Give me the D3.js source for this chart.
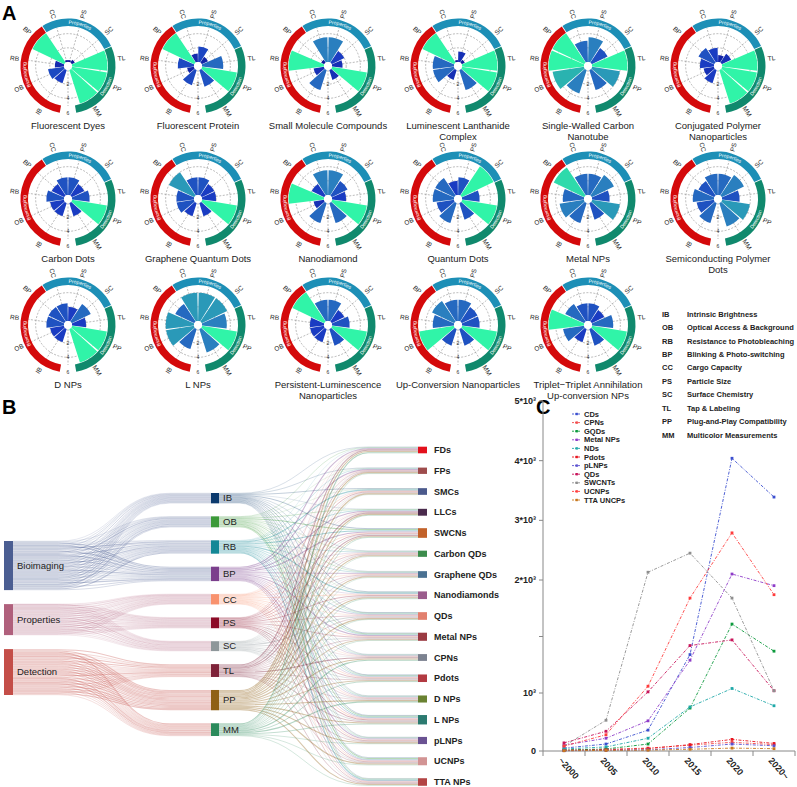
<!DOCTYPE html>
<meta charset="utf-8">
<style>
  body { margin: 0; background: #fff; }
  text { font-family: "Liberation Sans", Arial, sans-serif; }
</style>
<svg width="797" height="787"></svg>
<script src="https://d3js.org/d3.v7.min.js"></script>
<script>
// ---------- data ----------
var axes = ["IB", "OB", "RB", "BP", "CC", "PS", "SC", "TL", "PP", "MM"];
var axisNames = ["Intrinsic Brightness", "Optical Access & Background", "Resistance to Photobleaching",
  "Blinking & Photo-switching", "Cargo Capacity", "Particle Size", "Surface Chemistry",
  "Tap & Labeling", "Plug-and-Play Compatibility", "Multicolor Measurements"];
var groups = ["Bioimaging", "Properties", "Detection"];
var groupOf = [0, 0, 0, 0, 1, 1, 1, 2, 2, 2];
// slot of each axis on the rose (11 slots, slot 5 left empty at the bottom)
var slotOf = [6, 7, 8, 9, 10, 0, 1, 2, 3, 4];

var shortNames = ["FDs", "FPs", "SMCs", "LLCs", "SWCNs", "CPNs", "Carbon QDs", "Graphene QDs",
  "Nanodiamonds", "QDs", "Metal NPs", "Pdots", "D NPs", "L NPs", "pLNPs", "UCNPs", "TTA NPs"];
var titles = [["Fluorescent Dyes"], ["Fluorescent Protein"], ["Small Molecule Compounds"],
  ["Luminescent Lanthanide", "Complex"], ["Single-Walled Carbon", "Nanotube"],
  ["Conjugated Polymer", "Nanoparticles"], ["Carbon Dots"], ["Graphene Quantum Dots"],
  ["Nanodiamond"], ["Quantum Dots"], ["Metal NPs"], ["Semiconducting Polymer", "Dots"],
  ["D NPs"], ["L NPs"], ["Persistent-Luminescence", "Nanoparticles"],
  ["Up-Conversion Nanoparticles"], ["Triplet\u2212Triplet Annihilation", "Up-conversion NPs"]];
// scores in axis order IB OB RB BP CC PS SC TL PP MM
var scores = [
  [2, 2.3, 1.3, 5, 0.3, 0.3, 0.5, 5, 5, 5],
  [2.3, 1, 2.3, 5, 1.2, 2.2, 1, 3, 5, 2.5],
  [3, 1.5, 5, 0.5, 3.5, 3.5, 2, 1.5, 5, 1.5],
  [1.5, 3, 3, 5, 0.3, 1.5, 0.5, 5, 5, 3],
  [3.5, 4.5, 5, 5, 3, 3.5, 2.5, 5, 4, 3],
  [2, 1.5, 2, 2.5, 2, 1, 1.5, 5, 5, 5],
  [2, 2, 2.5, 2, 2.5, 2.5, 2, 2.5, 5, 2],
  [2, 2.5, 2.5, 4, 2.5, 2.5, 2, 2, 5, 2],
  [3, 1.5, 5, 2, 3.5, 3.5, 2.5, 2, 5, 3],
  [3, 2.5, 3, 3, 2, 2.5, 5, 2.5, 5, 2.5],
  [3, 3.5, 3, 4.8, 3, 3, 3.5, 2.5, 4, 2.5],
  [3, 2.5, 3, 2.5, 3, 3, 3.5, 2.5, 4, 3.5],
  [2, 2, 2.5, 2.5, 2.5, 2, 3, 2, 5, 5],
  [3, 4, 4, 3, 4, 4, 4, 3.5, 5, 3.5],
  [2, 2, 2, 5, 3, 3, 2, 2.5, 5, 2.5],
  [2.5, 5, 3, 3.5, 3, 3, 2.5, 2.5, 5, 2.5],
  [2, 3, 5, 3, 2.5, 2.5, 2, 3, 5, 2.5]
];
var sankeyOrder = ["FDs", "FPs", "SMCs", "LLCs", "SWCNs", "Carbon QDs", "Graphene QDs", "Nanodiamonds",
  "QDs", "Metal NPs", "CPNs", "Pdots", "D NPs", "L NPs", "pLNPs", "UCNPs", "TTA NPs"];

var groupColors = ["#4b5e92", "#b0607c", "#c44e48"];
var featColors = ["#0b3a6e", "#3d9a3a", "#148896", "#7b3f8c", "#f8926e", "#8c0b27", "#8e979a", "#7e2239", "#8f6015", "#2b8a5b"];
var matColors = ["#e3101c", "#9e4c4c", "#4b5a8c", "#4a2a4c", "#c2622a", "#3c8c4c", "#4a7192", "#9a5c8c",
  "#e2806e", "#9a3a42", "#7c8290", "#b23a42", "#6a8232", "#2b7a70", "#6a5292", "#d29494", "#b24444"];

// panel C
var years = ["~2000", "2005", "2010", "2015", "2020", "2020~"];
var seriesNames = ["CDs", "CPNs", "GQDs", "Metal NPs", "NDs", "Pdots", "pLNPs", "QDs", "SWCNTs", "UCNPs", "TTA UNCPs"];
var seriesColors = ["#3b4fcf", "#f24a4a", "#0c9a3c", "#8e3cc8", "#1fa8a8", "#e8141e", "#5a50d0", "#c8145a", "#8e8e8e", "#ff3c3c", "#c8781e"];
var seriesValues = [
  [50, 120, 360, 1340, 4040, 3390],
  [20, 30, 50, 100, 150, 110],
  [15, 35, 120, 740, 1610, 1370],
  [100, 220, 520, 1290, 2100, 1950],
  [35, 70, 220, 760, 1040, 780],
  [10, 20, 40, 110, 200, 130],
  [5, 10, 20, 60, 120, 90],
  [140, 340, 1010, 1420, 1470, 1020],
  [85, 530, 2130, 2450, 1840, 1020],
  [85, 280, 1060, 1840, 2790, 1870],
  [5, 10, 15, 30, 50, 40]
];
// y axis is segmented: 0-10^3, 10^3-2*10^3 (stretched), 2*10^3-5*10^3
var yBreaks = [0, 1000, 2000, 5000];
var yTicks = [0, 1000, 1500, 2000, 3000, 4000, 5000];
var yTickLabels = ["0", "10\u00b3", "", "2*10\u00b3", "3*10\u00b3", "4*10\u00b3", "5*10\u00b3"];

var svg = d3.select("svg");

// ---------- panel A ----------
var rScale = d3.scaleLinear().domain([0, 6]).range([4, 46.5]);
var wedgeColor = d3.scaleLinear().domain([0, 2, 3.5, 4.5, 5])
  .range(["#0a0c8c", "#1a3cc2", "#2a7fbf", "#2ab3b0", "#30f4a8"]);
var slotDeg = 360 / 11;
var ringArcs = [[190, 326.5, 0], [327.5, 425, 1], [66, 170, 2]];
var ringColors = ["#d4090b", "#1d8fb6", "#10896d"];
var ringIn = 40, ringOut = 47.5;

function pt(r, deg) {
  var a = deg * Math.PI / 180;
  return [r * Math.sin(a), -r * Math.cos(a)];
}
function arcPath(r, a0, a1) {
  var p0 = pt(r, a0), p1 = pt(r, a1);
  var sweep = a1 > a0 ? 1 : 0, large = Math.abs(a1 - a0) > 180 ? 1 : 0;
  return "M" + p0[0] + "," + p0[1] + "A" + r + "," + r + " 0 " + large + " " + sweep + " " + p1[0] + "," + p1[1];
}

var colX = d3.scalePoint().domain(d3.range(6)).range([68, 718]);
var rowY = [66, 199, 325];

scores.forEach(function (vals, m) {
  var cx = colX(m % 6), cy = rowY[Math.floor(m / 6)];
  var g = svg.append("g").attr("transform", "translate(" + cx + "," + cy + ")");

  // grid
  [2, 4].forEach(function (v) {
    g.append("circle").attr("r", rScale(v)).attr("fill", "none")
      .attr("stroke", "#777").attr("stroke-width", 0.5).attr("stroke-dasharray", "2,1.5");
  });
  d3.range(11).forEach(function (s) {
    var p0 = pt(rScale(0), (s + 0.5) * slotDeg), p1 = pt(ringIn, (s + 0.5) * slotDeg);
    g.append("line").attr("x1", p0[0]).attr("y1", p0[1]).attr("x2", p1[0]).attr("y2", p1[1])
      .attr("stroke", "#777").attr("stroke-width", 0.5).attr("stroke-dasharray", "2,1.5");
  });

  // wedges
  var arc = d3.arc();
  vals.forEach(function (v, j) {
    var s = slotOf[j];
    g.append("path").attr("d", arc({
      innerRadius: rScale(0), outerRadius: rScale(v),
      startAngle: (s * slotDeg + 1.2) * Math.PI / 180,
      endAngle: ((s + 1) * slotDeg - 1.2) * Math.PI / 180
    })).attr("fill", wedgeColor(v));
  });
  g.append("circle").attr("r", rScale(0)).attr("fill", "#fff");

  // tick labels
  [2, 4, 6].forEach(function (v) {
    g.append("text").attr("x", 0).attr("y", rScale(v) + 2).attr("text-anchor", "middle")
      .attr("font-size", 5).attr("fill", "#333").text(v);
  });

  // outer ring
  ringArcs.forEach(function (ra, i) {
    g.append("path").attr("d", d3.arc()({
      innerRadius: ringIn, outerRadius: ringOut,
      startAngle: ra[0] * Math.PI / 180, endAngle: ra[1] * Math.PI / 180
    })).attr("fill", ringColors[ra[2]]);
    var id = "rp" + m + "_" + i;
    var a0 = ra[0], a1 = ra[1];
    if (i === 2) { a0 = ra[1]; a1 = ra[0]; }
    var off = (i === 2) ? 45.5 : 42;
    g.append("path").attr("id", id).attr("d", arcPath(off, a0, a1)).attr("fill", "none");
    g.append("text").attr("font-size", 5).attr("fill", "#fff")
      .append("textPath").attr("href", "#" + id).attr("startOffset", "50%")
      .attr("text-anchor", "middle").text(groups[ra[2]]);
  });

  // axis labels
  axes.forEach(function (a, j) {
    var deg = (slotOf[j] + 0.5) * slotDeg;
    var p = pt(54, deg);
    var rot = deg < 180 ? deg - 90 : deg + 90;
    g.append("text").attr("transform", "translate(" + p[0] + "," + p[1] + ") rotate(" + rot + ")")
      .attr("text-anchor", "middle").attr("dy", "0.35em").attr("font-size", 6.5)
      .attr("fill", "#222").text(a);
  });

  // title
  titles[m].forEach(function (line, li) {
    svg.append("text").attr("x", cx).attr("y", cy + 63 + li * 11).attr("text-anchor", "middle")
      .attr("font-size", 9.5).attr("fill", "#222").text(line);
  });
});

// abbreviations legend
var legY = d3.scalePoint().domain(axes).range([314, 435]);
axes.forEach(function (a, j) {
  svg.append("text").attr("x", 662).attr("y", legY(a)).attr("dy", "0.35em")
    .attr("font-size", 7.5).attr("font-weight", "bold").attr("fill", "#222").text(a);
  svg.append("text").attr("x", 687).attr("y", legY(a)).attr("dy", "0.35em")
    .attr("font-size", 7.5).attr("font-weight", "bold").attr("fill", "#222").text(axisNames[j]);
});

// panel letters
[["A", 2, 20], ["B", 2, 414], ["C", 536, 414]].forEach(function (d) {
  svg.append("text").attr("x", d[1]).attr("y", d[2]).attr("font-size", 20)
    .attr("font-weight", "bold").attr("fill", "#000").text(d[0]);
});

// ---------- panel B: sankey ----------
var matIdx = sankeyOrder.map(function (n) { return shortNames.indexOf(n); });
var featTotals = axes.map(function (a, j) { return d3.sum(matIdx, function (i) { return scores[i][j]; }); });
var groupTotals = groups.map(function (g, gi) {
  return d3.sum(axes, function (a, j) { return groupOf[j] === gi ? featTotals[j] : 0; });
});
var k = 126 / d3.sum(featTotals);

var xL = [4, 13], xM = [211, 219], xR = [418, 427];
var leftNodes = [], midNodes = [], rightNodes = [];
var y = 541;
groups.forEach(function (g, gi) {
  leftNodes.push({ y0: y, y1: y + groupTotals[gi] * k });
  y += groupTotals[gi] * k + 14;
});
y = 493;
axes.forEach(function (a, j) {
  midNodes.push({ y0: y, y1: y + featTotals[j] * k });
  y += featTotals[j] * k + 13;
});
var rightY = d3.scalePoint().domain(sankeyOrder).range([450, 782]);
sankeyOrder.forEach(function (n, r) {
  var h = d3.sum(scores[matIdx[r]]) * k;
  rightNodes.push({ y0: rightY(n) - h / 2, y1: rightY(n) + h / 2 });
});

function linkPath(x0, y0, x1, y1, xa, xb) {
  var xm = (xa + xb) / 2;
  return "M" + x0 + "," + y0 + "H" + xa + "C" + xm + "," + y0 + " " + xm + "," + y1 + " " + xb + "," + y1 + "H" + x1;
}

var linkG = svg.append("g").attr("fill", "none");
// left -> middle, one strand per material
var srcCur = leftNodes.map(function (n) { return n.y0; });
var tgtCur = midNodes.map(function (n) { return n.y0; });
matIdx.forEach(function (mi) {
  axes.forEach(function (a, j) {
    var gi = groupOf[j], w = scores[mi][j] * k;
    var sy = srcCur[gi] + w / 2, ty = tgtCur[j] + w / 2;
    srcCur[gi] += w; tgtCur[j] += w;
    linkG.append("path").attr("d", linkPath(xL[1], sy, xM[0], ty, 58, 170))
      .attr("stroke", groupColors[gi]).attr("stroke-opacity", 0.32).attr("stroke-width", Math.max(w * 0.9, 0.3));
  });
});
// middle -> right
var srcCur2 = midNodes.map(function (n) { return n.y0; });
var tgtCur2 = rightNodes.map(function (n) { return n.y0; });
axes.forEach(function (a, j) {
  matIdx.forEach(function (mi, r) {
    var w = scores[mi][j] * k;
    var sy = srcCur2[j] + w / 2, ty = tgtCur2[r] + w / 2;
    srcCur2[j] += w; tgtCur2[r] += w;
    linkG.append("path").attr("d", linkPath(xM[1], sy, xR[0], ty, 240, 368))
      .attr("stroke", featColors[j]).attr("stroke-opacity", 0.36).attr("stroke-width", Math.max(w * 0.9, 0.3));
  });
});

leftNodes.forEach(function (n, gi) {
  svg.append("rect").attr("x", xL[0]).attr("y", n.y0).attr("width", xL[1] - xL[0]).attr("height", n.y1 - n.y0)
    .attr("fill", groupColors[gi]);
  svg.append("text").attr("x", 17).attr("y", (n.y0 + n.y1) / 2).attr("dy", "0.35em")
    .attr("font-size", 9.5).attr("fill", "#222").text(groups[gi]);
});
midNodes.forEach(function (n, j) {
  svg.append("rect").attr("x", xM[0]).attr("y", n.y0).attr("width", xM[1] - xM[0]).attr("height", n.y1 - n.y0)
    .attr("fill", featColors[j]);
  svg.append("text").attr("x", 223).attr("y", (n.y0 + n.y1) / 2).attr("dy", "0.35em")
    .attr("font-size", 9.5).attr("fill", "#222").text(axes[j]);
});
rightNodes.forEach(function (n, r) {
  svg.append("rect").attr("x", xR[0]).attr("y", n.y0).attr("width", xR[1] - xR[0]).attr("height", n.y1 - n.y0)
    .attr("fill", matColors[r]);
  svg.append("text").attr("x", 434).attr("y", (n.y0 + n.y1) / 2).attr("dy", "0.35em")
    .attr("font-size", 9).attr("font-weight", "bold").attr("fill", "#222").text(sankeyOrder[r]);
});

// ---------- panel C ----------
var xC = d3.scaleBand().domain(years).range([543, 795]);
var yC = d3.scaleLinear().domain(yBreaks).range([751, 693, 580, 401]);
var axC = svg.append("g").attr("stroke", "#888").attr("stroke-width", 1);
axC.append("line").attr("x1", 543).attr("x2", 543).attr("y1", yC(5000)).attr("y2", yC(0));
axC.append("line").attr("x1", 543).attr("x2", 795).attr("y1", yC(0)).attr("y2", yC(0));
yTicks.forEach(function (t, i) {
  axC.append("line").attr("x1", 539).attr("x2", 543).attr("y1", yC(t)).attr("y2", yC(t));
  svg.append("text").attr("x", 536).attr("y", yC(t)).attr("dy", "0.35em").attr("text-anchor", "end")
    .attr("font-size", 9).attr("font-weight", "bold").attr("fill", "#222").text(yTickLabels[i]);
});
years.forEach(function (yr, i) {
  axC.append("line").attr("x1", xC(yr) + xC.bandwidth()).attr("x2", xC(yr) + xC.bandwidth())
    .attr("y1", yC(0)).attr("y2", yC(0) + 5);
  var px = xC(yr) + xC.bandwidth() / 2;
  svg.append("text").attr("transform", "translate(" + (px - 6) + "," + 761 + ") rotate(48)")
    .attr("font-size", 9).attr("font-weight", "bold").attr("fill", "#222").text(yr);
});
axC.append("line").attr("x1", 543).attr("x2", 543).attr("y1", yC(0)).attr("y2", yC(0) + 5);

var line = d3.line()
  .x(function (d, i) { return xC(years[i]) + xC.bandwidth() / 2; })
  .y(function (d) { return yC(d); });
seriesValues.forEach(function (vals, s) {
  svg.append("path").attr("d", line(vals)).attr("fill", "none").attr("stroke", seriesColors[s])
    .attr("stroke-width", 0.9).attr("stroke-dasharray", "3,1.5,1,1.5");
  vals.forEach(function (v, i) {
    svg.append("rect").attr("x", xC(years[i]) + xC.bandwidth() / 2 - 1.4).attr("y", yC(v) - 1.4)
      .attr("width", 2.8).attr("height", 2.8).attr("fill", seriesColors[s]);
  });
});
var legC = d3.scalePoint().domain(seriesNames).range([414, 500]);
seriesNames.forEach(function (n, s) {
  svg.append("line").attr("x1", 572).attr("x2", 581).attr("y1", legC(n)).attr("y2", legC(n))
    .attr("stroke", seriesColors[s]).attr("stroke-width", 0.9).attr("stroke-dasharray", "2,1");
  svg.append("rect").attr("x", 575.5).attr("y", legC(n) - 1.2).attr("width", 2.4).attr("height", 2.4)
    .attr("fill", seriesColors[s]);
  svg.append("text").attr("x", 584).attr("y", legC(n)).attr("dy", "0.35em")
    .attr("font-size", 7.5).attr("font-weight", "bold").attr("fill", "#222").text(n);
});
</script>
